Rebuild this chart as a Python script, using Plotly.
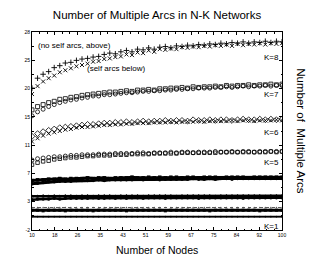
import plotly.graph_objects as go

nodes = [10, 12, 14, 16, 18, 20, 22, 24, 26, 28, 30, 32, 34, 36, 38, 40, 42, 44, 46, 48,
         50, 52, 54, 56, 58, 60, 62, 64, 66, 68, 70, 72, 74, 76, 78, 80, 82, 84, 86, 88,
         90, 92, 94, 96, 98, 100]

k8_noself = [19.5, 21.0, 21.6, 22.0, 22.6, 22.9, 23.3, 23.4, 23.7, 23.9, 24.0, 24.2, 24.3, 24.6, 24.8, 24.7,
             25.0, 25.2, 25.0, 25.4, 25.3, 25.6, 25.4, 25.7, 25.8, 25.6, 25.9, 25.8, 26.0, 25.9, 26.1, 26.0,
             26.2, 26.1, 26.3, 26.2, 26.4, 26.3, 26.5, 26.3, 26.5, 26.4, 26.6, 26.4, 26.6, 26.5]
k8_self = [18.6, 19.8, 20.5, 21.0, 21.4, 21.9, 22.2, 22.5, 22.8, 23.0, 23.2, 23.5, 23.6, 23.9, 24.0, 24.2,
           24.3, 24.6, 24.5, 24.9, 24.8, 25.2, 25.0, 25.4, 25.3, 25.5, 25.4, 25.7, 25.6, 25.8, 25.7, 25.9,
           25.8, 26.0, 25.9, 26.1, 25.9, 26.2, 26.0, 26.2, 26.1, 26.3, 26.1, 26.3, 26.2, 26.3]
k7_noself = [16.2, 16.7, 17.0, 17.3, 17.5, 17.8, 17.9, 18.1, 18.2, 18.4, 18.5, 18.6, 18.7, 18.8, 18.9, 18.9,
             19.0, 19.1, 19.0, 19.2, 19.2, 19.3, 19.2, 19.4, 19.4, 19.5, 19.5, 19.6, 19.5, 19.7, 19.6, 19.7,
             19.7, 19.8, 19.7, 19.9, 19.8, 19.9, 19.9, 20.0, 19.9, 20.0, 20.0, 20.1, 20.0, 20.1]
k7_self = [15.3, 15.9, 16.3, 16.7, 17.0, 17.3, 17.5, 17.7, 17.8, 18.0, 18.1, 18.3, 18.3, 18.5, 18.5, 18.6,
           18.7, 18.8, 18.8, 18.9, 19.0, 19.0, 19.1, 19.1, 19.2, 19.2, 19.3, 19.3, 19.4, 19.4, 19.5, 19.5,
           19.5, 19.6, 19.6, 19.7, 19.6, 19.7, 19.8, 19.7, 19.8, 19.8, 19.9, 19.8, 19.9, 19.9]
k6_noself = [12.2, 12.6, 12.9, 13.1, 13.3, 13.5, 13.6, 13.7, 13.8, 13.9, 14.0, 14.0, 14.1, 14.2, 14.2, 14.3,
             14.3, 14.4, 14.3, 14.4, 14.5, 14.4, 14.5, 14.5, 14.6, 14.5, 14.6, 14.6, 14.5, 14.7, 14.6, 14.6,
             14.7, 14.6, 14.7, 14.7, 14.6, 14.7, 14.8, 14.7, 14.7, 14.8, 14.7, 14.8, 14.7, 14.8]
k6_self = [11.4, 11.9, 12.3, 12.6, 12.8, 13.0, 13.2, 13.3, 13.5, 13.6, 13.6, 13.7, 13.8, 13.9, 13.9, 14.0,
           14.0, 14.1, 14.1, 14.2, 14.2, 14.2, 14.3, 14.3, 14.3, 14.4, 14.3, 14.4, 14.4, 14.4, 14.5, 14.4,
           14.5, 14.5, 14.5, 14.5, 14.6, 14.5, 14.6, 14.6, 14.5, 14.6, 14.6, 14.6, 14.7, 14.6]
k5_noself = [8.6, 8.8, 8.9, 9.0, 9.1, 9.1, 9.2, 9.3, 9.3, 9.4, 9.4, 9.4, 9.5, 9.5, 9.5, 9.6,
             9.6, 9.6, 9.6, 9.7, 9.7, 9.6, 9.7, 9.7, 9.7, 9.8, 9.7, 9.8, 9.8, 9.7, 9.8, 9.8,
             9.8, 9.9, 9.8, 9.8, 9.9, 9.8, 9.9, 9.9, 9.8, 9.9, 9.9, 9.9, 9.9, 9.9]
k5_self = [7.9, 8.2, 8.4, 8.5, 8.7, 8.8, 8.9, 9.0, 9.0, 9.1, 9.2, 9.2, 9.3, 9.3, 9.3, 9.4,
           9.4, 9.4, 9.5, 9.5, 9.5, 9.5, 9.6, 9.6, 9.6, 9.6, 9.6, 9.7, 9.7, 9.7, 9.7, 9.7,
           9.7, 9.7, 9.8, 9.8, 9.8, 9.8, 9.8, 9.8, 9.8, 9.8, 9.8, 9.9, 9.8, 9.9]
k4_noself = [5.5, 5.6, 5.6, 5.7, 5.7, 5.8, 5.7, 5.8, 5.8, 5.8, 5.9, 5.8, 5.9, 5.9, 5.8, 5.9,
             5.9, 5.9, 6.0, 5.9, 5.9, 6.0, 5.9, 6.0, 5.9, 6.0, 6.0, 5.9, 6.0, 6.0, 5.9, 6.0,
             6.0, 6.0, 5.9, 6.0, 6.0, 6.0, 6.0, 5.9, 6.0, 6.0, 6.0, 6.0, 6.0, 6.0]
k4_self = [5.0, 5.1, 5.2, 5.3, 5.3, 5.4, 5.4, 5.4, 5.5, 5.5, 5.5, 5.5, 5.6, 5.5, 5.6, 5.6,
           5.6, 5.6, 5.6, 5.7, 5.6, 5.7, 5.7, 5.6, 5.7, 5.7, 5.7, 5.7, 5.7, 5.8, 5.7, 5.7,
           5.8, 5.7, 5.8, 5.8, 5.7, 5.8, 5.8, 5.8, 5.8, 5.8, 5.8, 5.8, 5.8, 5.8]
k3_noself = [3.1, 3.1, 3.2, 3.1, 3.2, 3.1, 3.2, 3.2, 3.1, 3.2, 3.2, 3.1, 3.2, 3.2, 3.2, 3.1,
             3.2, 3.2, 3.2, 3.2, 3.1, 3.2, 3.2, 3.2, 3.2, 3.2, 3.1, 3.2, 3.2, 3.2, 3.2, 3.2,
             3.2, 3.1, 3.2, 3.2, 3.2, 3.2, 3.2, 3.2, 3.2, 3.2, 3.1, 3.2, 3.2, 3.2]
k3_self = [2.6, 2.7, 2.7, 2.7, 2.8, 2.7, 2.8, 2.8, 2.8, 2.8, 2.8, 2.9, 2.8, 2.8, 2.9, 2.8,
           2.9, 2.8, 2.9, 2.9, 2.8, 2.9, 2.9, 2.9, 2.8, 2.9, 2.9, 2.9, 2.9, 2.9, 2.8, 2.9,
           2.9, 2.9, 2.9, 2.9, 2.9, 2.9, 2.8, 2.9, 2.9, 2.9, 2.9, 2.9, 2.9, 2.9]
k2_noself = [1.4, 1.4, 1.4, 1.4, 1.4, 1.4, 1.4, 1.4, 1.4, 1.4, 1.4, 1.4, 1.4, 1.4, 1.4, 1.4,
             1.4, 1.4, 1.4, 1.4, 1.4, 1.4, 1.4, 1.4, 1.4, 1.4, 1.4, 1.4, 1.4, 1.4, 1.4, 1.4,
             1.4, 1.4, 1.4, 1.4, 1.4, 1.4, 1.4, 1.4, 1.4, 1.4, 1.4, 1.4, 1.4, 1.4]
k2_self = [1.0, 1.0, 0.9, 1.0, 1.0, 1.0, 0.9, 1.0, 1.0, 1.0, 1.0, 0.9, 1.0, 1.0, 1.0, 1.0,
           1.0, 0.9, 1.0, 1.0, 1.0, 1.0, 1.0, 1.0, 0.9, 1.0, 1.0, 1.0, 1.0, 1.0, 1.0, 1.0,
           0.9, 1.0, 1.0, 1.0, 1.0, 1.0, 1.0, 1.0, 1.0, 0.9, 1.0, 1.0, 1.0, 1.0]
k1_noself = [0.05] * 46
k1_self = [0.0] * 46

x_tickvals = [10, 18.18, 26.36, 34.55, 42.73, 50.91, 59.09, 67.27, 75.45, 83.64, 91.82, 100]
x_ticktext = ["10", "18", "26", "35", "43", "51", "59", "67", "75", "84", "92", "100"]
y_tickvals = [-2, 2.286, 6.571, 10.857, 15.143, 19.429, 23.714, 28]
y_ticktext = ["-2", "3", "7", "11", "15", "20", "25", "28"]

k_labels = ["K=8", "K=7", "K=6", "K=5", "K=1"]
k_label_y = [24.1, 18.6, 12.7, 8.2, -1.5]

fig = go.Figure()
BLK = "black"

def add_markers(y, symbol, size=4, width=0.8):
    fig.add_trace(go.Scatter(x=nodes, y=y, mode="markers",
                             marker=dict(symbol=symbol, size=size, color=BLK,
                                         line=dict(color=BLK, width=width)),
                             showlegend=False, hoverinfo="skip"))

def add_band(y, width, symbol="circle", msize=3, dash="solid", color=BLK):
    fig.add_trace(go.Scatter(x=nodes, y=y, mode="lines+markers",
                             line=dict(color=color, width=width, dash=dash),
                             marker=dict(symbol=symbol, size=msize, color=color),
                             showlegend=False, hoverinfo="skip"))

add_markers(k8_noself, "cross-thin-open", 4, 0.9)
add_markers(k8_self, "x-thin-open", 4, 0.9)
add_markers(k7_noself, "square-open", 4)
add_markers(k7_self, "circle-open", 4)
add_markers(k6_noself, "diamond-open", 4.5)
add_markers(k6_self, "x-thin-open", 4, 0.9)
add_markers(k5_noself, "circle-open", 4)
add_markers(k5_self, "square-open", 3.5)
add_band(k4_noself, 3, "square", 3.5)
add_band(k4_self, 3, "circle", 3.5)
add_band(k3_noself, 2.5, "triangle-up", 3.5)
add_band(k3_self, 2.5, "circle", 3.5)
add_band(k2_noself, 1, "circle", 1.5, dash="dot", color="#555555")
add_band(k2_self, 3, "square", 3)
add_band(k1_noself, 1.5, "circle", 1.5)
add_band(k1_self, 1.5, "circle", 1.5)

for txt, yy in zip(k_labels, k_label_y):
    fig.add_annotation(x=100, y=yy, text=txt, xanchor="right", yanchor="middle",
                       showarrow=False, font=dict(size=8, color=BLK), xshift=-1)

fig.add_annotation(x=11.6, y=26.0, text="(no self arcs, above)", xanchor="left", yanchor="middle",
                   showarrow=False, font=dict(size=8, color=BLK))
fig.add_annotation(x=29, y=22.4, text="(self arcs below)", xanchor="left", yanchor="middle",
                   showarrow=False, font=dict(size=8, color=BLK))

axis_common = dict(showgrid=False, zeroline=False, showline=True, linecolor=BLK, linewidth=1,
                   mirror="allticks", ticks="inside", ticklen=3, tickwidth=0.8, tickcolor=BLK,
                   tickfont=dict(size=5, color=BLK))

fig.update_xaxes(range=[10, 100], tickmode="array", tickvals=x_tickvals, ticktext=x_ticktext,
                 minor=dict(ticks="inside", ticklen=1.5, tickcolor=BLK, tickwidth=0.8,
                            tick0=10, dtick=90 / 33),
                 **axis_common)
fig.update_yaxes(range=[-2, 28], tickmode="array", tickvals=y_tickvals, ticktext=y_ticktext,
                 minor=dict(ticks="inside", ticklen=1.5, tickcolor=BLK, tickwidth=0.8,
                            tick0=-2, dtick=30 / 14),
                 **axis_common)

fig.add_annotation(xref="paper", yref="paper", x=0.5, y=-0.101, text="Number of Nodes",
                   showarrow=False, font=dict(size=10.5, color=BLK),
                   xanchor="center", yanchor="middle")
fig.add_annotation(xref="paper", yref="paper", x=1.075, y=0.5, text="Number of  Multiple Arcs",
                   textangle=90, showarrow=False, font=dict(size=11.5, color=BLK),
                   xanchor="center", yanchor="middle")

fig.update_layout(
    width=314, height=262,
    margin=dict(l=32, r=32, t=32, b=32),
    paper_bgcolor="white", plot_bgcolor="white",
    font=dict(family="Liberation Sans, Arial, sans-serif", color=BLK),
    title=dict(text="Number of Multiple Arcs in N-K Networks", x=0.5, xanchor="center",
               y=0.943, yanchor="middle", font=dict(size=11.5, color=BLK)),
)

fig.write_html("out.html", config={"displayModeBar": False},
               post_script="document.body.style.margin='0px';")
